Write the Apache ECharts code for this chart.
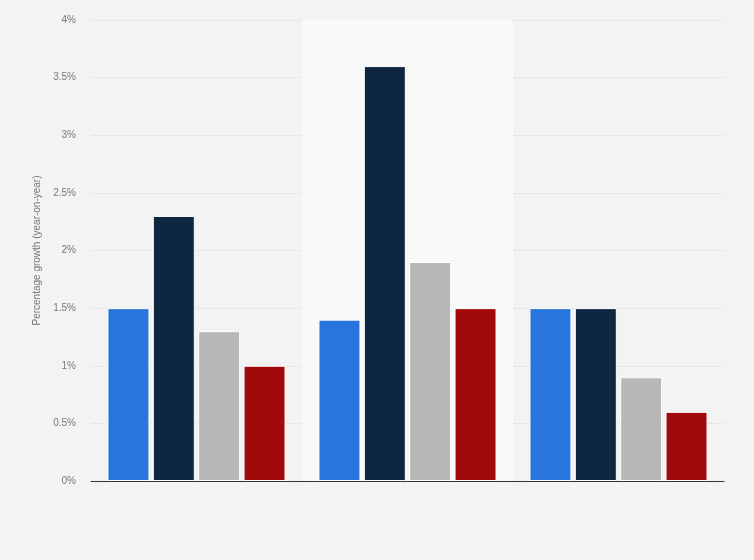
<!DOCTYPE html>
<html><head><meta charset="utf-8">
<script src="https://cdn.jsdelivr.net/npm/echarts@6/dist/echarts.min.js"></script>
<style>html,body{margin:0;padding:0;background:#f3f3f3}#c{width:754px;height:560px}</style>
</head><body><div id="c"></div>
<script>
const categories = ['A', 'B', 'C'];
const series1 = [1.5, 1.4, 1.5];
const series2 = [2.3, 3.6, 1.5];
const series3 = [1.3, 1.9, 0.9];
const series4 = [1.0, 1.5, 0.6];
const yTicks = [0, 0.5, 1, 1.5, 2, 2.5, 3, 3.5, 4];
const colors = ['#2876dd', '#0f2640', '#b7b7b7', '#a10a0a'];

const chart = echarts.init(document.getElementById('c'));
const mk = (d, i) => ({
  type: 'bar', data: d, barWidth: 42, barGap: '8%',
  itemStyle: { color: colors[i], borderColor: '#ffffff', borderWidth: 1 }
});
chart.setOption({
  backgroundColor: '#f3f3f3',
  animation: false,
  grid: { left: 91, right: 30, top: 20, bottom: 79 },
  xAxis: {
    type: 'category', data: categories,
    axisLine: { lineStyle: { color: '#333', width: 1 } },
    axisTick: { show: false }, axisLabel: { show: false },
    splitArea: { show: true, areaStyle: { color: ['rgba(0,0,0,0)', '#f9f9f9'] } }
  },
  yAxis: {
    type: 'value', min: 0, max: 4, interval: 0.5,
    name: 'Percentage growth (year-on-year)', nameLocation: 'middle', nameGap: 47,
    nameTextStyle: { color: '#777', fontSize: 10, fontFamily: 'Liberation Sans, Arial' },
    axisLine: { show: false }, axisTick: { show: false },
    axisLabel: { color: '#777', fontSize: 10, margin: 15, fontFamily: 'Liberation Sans, Arial',
      formatter: v => yTicks.includes(v) ? v + '%' : '' },
    splitLine: { lineStyle: { color: '#dcdcdc', type: 'dotted' } }
  },
  series: [mk(series1, 0), mk(series2, 1), mk(series3, 2), mk(series4, 3)]
});
</script></body></html>
